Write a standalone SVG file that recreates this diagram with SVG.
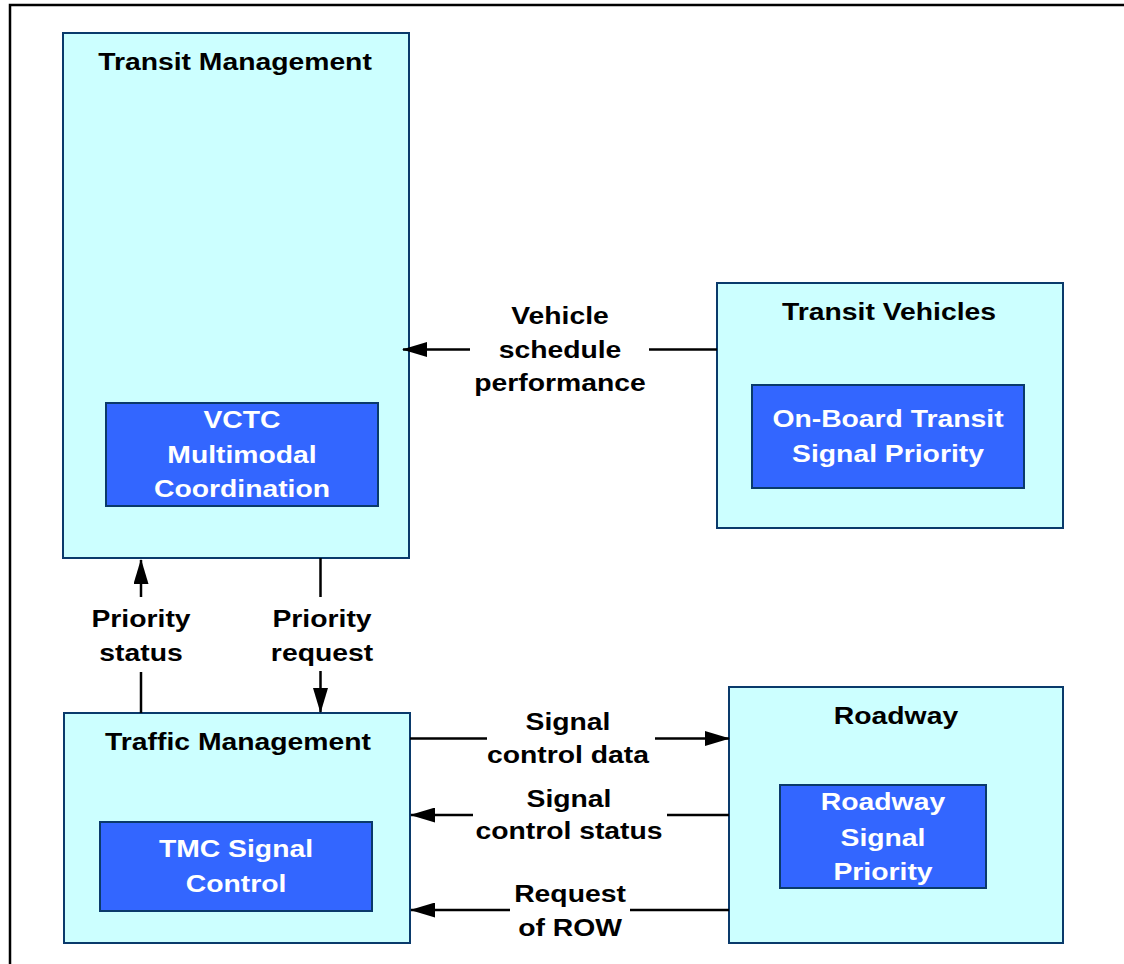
<svg xmlns="http://www.w3.org/2000/svg" width="1124" height="964" viewBox="0 0 1124 964">
<style>
.outer{fill:#CCFFFF;stroke:#0A3A6B;stroke-width:2}
.inner{fill:#3366FF;stroke:#0A3A6B;stroke-width:2}
.lbl{font-family:"Liberation Sans",Arial,sans-serif;font-weight:bold;font-size:24px;text-anchor:middle;fill:#000}
.w{fill:#FFFFFF}
.ln{stroke:#000;stroke-width:2.5;fill:none}
.frame{stroke:#000;stroke-width:2.5;fill:none}
</style>
<defs>
<marker id="ah" markerUnits="userSpaceOnUse" markerWidth="25" markerHeight="15" refX="24" refY="7.5" orient="auto">
<path d="M0,0 L25,7.5 L0,15 z" fill="#000"/>
</marker>
</defs>
<rect width="1124" height="964" fill="#FFFFFF"/>
<path class="frame" d="M10,964 L10,5 L1124,5"/>

<g id="transit-management">
<rect class="outer" x="63" y="33" width="346" height="525"/>
<text class="lbl" transform="translate(235,70) scale(1.18,1)">Transit Management</text>
<rect class="inner" x="106" y="403" width="272" height="103"/>
<text class="lbl w" transform="translate(242,427.5) scale(1.18,1)">VCTC</text>
<text class="lbl w" transform="translate(242,462.5) scale(1.18,1)">Multimodal</text>
<text class="lbl w" transform="translate(242,496.5) scale(1.18,1)">Coordination</text>
</g>

<g id="transit-vehicles">
<rect class="outer" x="717" y="283" width="346" height="245"/>
<text class="lbl" transform="translate(889,320) scale(1.18,1)">Transit Vehicles</text>
<rect class="inner" x="752" y="385" width="272" height="103"/>
<text class="lbl w" transform="translate(888,427) scale(1.18,1)">On-Board Transit</text>
<text class="lbl w" transform="translate(888,462) scale(1.18,1)">Signal Priority</text>
</g>

<g id="traffic-management">
<rect class="outer" x="64" y="713" width="346" height="230"/>
<text class="lbl" transform="translate(238,750) scale(1.18,1)">Traffic Management</text>
<rect class="inner" x="100" y="822" width="272" height="89"/>
<text class="lbl w" transform="translate(236,857) scale(1.18,1)">TMC Signal</text>
<text class="lbl w" transform="translate(236,892) scale(1.18,1)">Control</text>
</g>

<g id="roadway">
<rect class="outer" x="729" y="687" width="334" height="256"/>
<text class="lbl" transform="translate(896,724) scale(1.18,1)">Roadway</text>
<rect class="inner" x="780" y="785" width="206" height="103"/>
<text class="lbl w" transform="translate(883,810) scale(1.18,1)">Roadway</text>
<text class="lbl w" transform="translate(883,845.5) scale(1.18,1)">Signal</text>
<text class="lbl w" transform="translate(883,880) scale(1.18,1)">Priority</text>
</g>

<g id="connectors">
<!-- Vehicle schedule performance -->
<line class="ln" x1="717" y1="349.5" x2="649" y2="349.5"/>
<line class="ln" x1="470" y1="349.5" x2="403" y2="349.5" marker-end="url(#ah)"/>
<text class="lbl" transform="translate(560,323.5) scale(1.18,1)">Vehicle</text>
<text class="lbl" transform="translate(560,357.5) scale(1.18,1)">schedule</text>
<text class="lbl" transform="translate(560,391) scale(1.18,1)">performance</text>

<!-- Priority status (up) -->
<line class="ln" x1="141" y1="713" x2="141" y2="672"/>
<line class="ln" x1="141" y1="597" x2="141" y2="560" marker-end="url(#ah)"/>
<text class="lbl" transform="translate(141,627) scale(1.18,1)">Priority</text>
<text class="lbl" transform="translate(141,661) scale(1.18,1)">status</text>

<!-- Priority request (down) -->
<line class="ln" x1="320.5" y1="558" x2="320.5" y2="597"/>
<line class="ln" x1="320.5" y1="671" x2="320.5" y2="712" marker-end="url(#ah)"/>
<text class="lbl" transform="translate(322,627) scale(1.18,1)">Priority</text>
<text class="lbl" transform="translate(322,661) scale(1.18,1)">request</text>

<!-- Signal control data -->
<line class="ln" x1="410" y1="738.5" x2="487" y2="738.5"/>
<line class="ln" x1="655" y1="738.5" x2="729" y2="738.5" marker-end="url(#ah)"/>
<text class="lbl" transform="translate(568,730) scale(1.18,1)">Signal</text>
<text class="lbl" transform="translate(568,763) scale(1.18,1)">control data</text>

<!-- Signal control status -->
<line class="ln" x1="729" y1="815" x2="667" y2="815"/>
<line class="ln" x1="473" y1="815" x2="411" y2="815" marker-end="url(#ah)"/>
<text class="lbl" transform="translate(569,807) scale(1.18,1)">Signal</text>
<text class="lbl" transform="translate(569,839) scale(1.18,1)">control status</text>

<!-- Request of ROW -->
<line class="ln" x1="729" y1="910" x2="630" y2="910"/>
<line class="ln" x1="510" y1="910" x2="411" y2="910" marker-end="url(#ah)"/>
<text class="lbl" transform="translate(570,902) scale(1.18,1)">Request</text>
<text class="lbl" transform="translate(570,935.5) scale(1.18,1)">of ROW</text>
</g>
</svg>
